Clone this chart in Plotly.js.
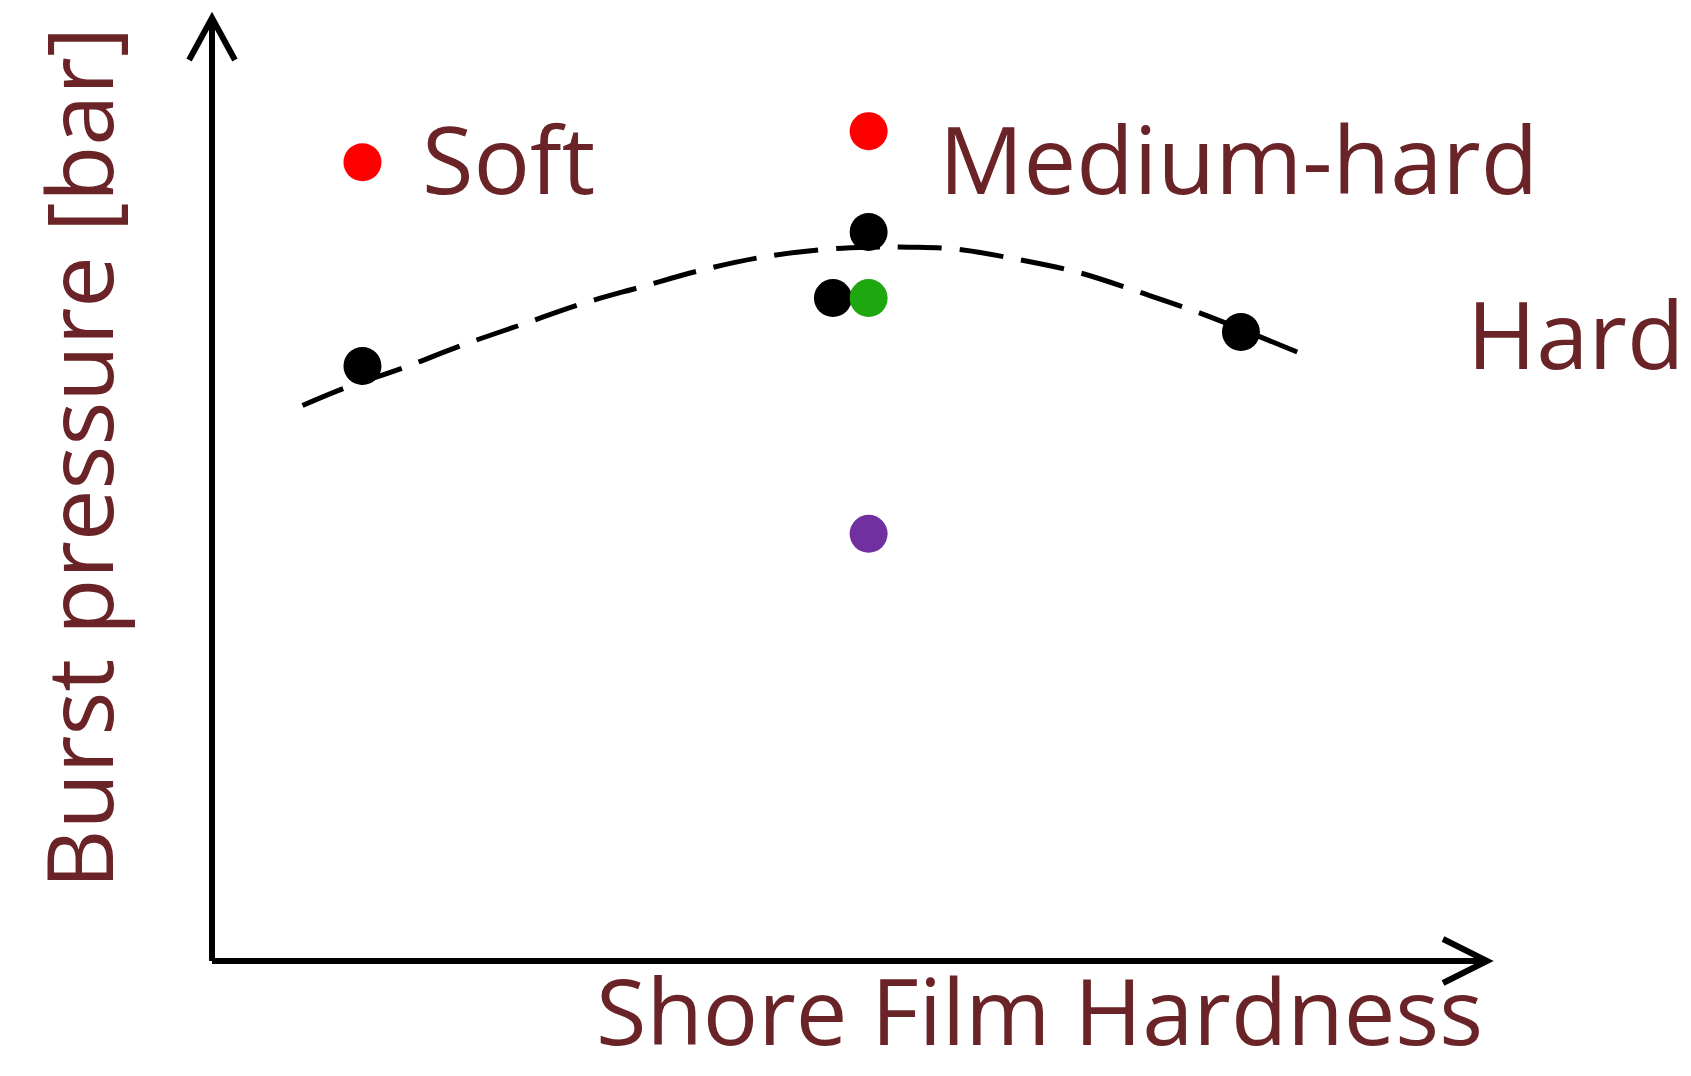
<!DOCTYPE html>
<html>
<head>
<meta charset="utf-8">
<script src="https://cdn.plot.ly/plotly-3.0.1.min.js"></script>
<style>
  html, body { margin: 0; padding: 0; background: #ffffff; }
  #chart { width: 1691px; height: 1076px; }
</style>
</head>
<body>
<div id="chart"></div>
<script>
// ---- Data (arbitrary units; axes have no ticks) ----
const fitX = [0.71, 1.03, 1.50, 1.96, 2.43, 2.90, 3.37, 3.85, 4.34, 4.83, 5.16, 5.47, 5.83, 6.32, 6.80, 7.28, 7.75, 8.58];
const fitY = [5.89, 6.07, 6.29, 6.53, 6.75, 6.97, 7.15, 7.33, 7.47, 7.55, 7.57, 7.57, 7.55, 7.44, 7.30, 7.09, 6.87, 6.42];

const blackX = [1.18, 5.15, 4.87, 8.07];
const blackY = [6.31, 7.73, 7.03, 6.67];

const redX = [1.18, 5.15];
const redY = [8.47, 8.80];

const greenX = [5.15];
const greenY = [7.03];

const purpleX = [5.15];
const purpleY = [4.53];

const hardnessLabels = ["Soft", "Medium-hard", "Hard"];
const labelX = [1.63, 5.69, 9.83];
const labelY = [8.52, 8.52, 6.66];

const xTitle = "Shore Film Hardness";
const yTitle = "Burst pressure [bar]";

// ---- Styles ----
const textColor = "#6a2427";
const fontFamily = "'Open Sans', 'Noto Sans', sans-serif";
const markerSize = 38;

const traces = [
  {
    x: fitX, y: fitY, type: "scatter", mode: "lines",
    line: { color: "#000000", width: 5, dash: "44px,18px", shape: "spline", smoothing: 1 },
    hoverinfo: "skip", showlegend: false
  },
  {
    x: blackX, y: blackY, type: "scatter", mode: "markers",
    marker: { color: "#000000", size: markerSize }, showlegend: false
  },
  {
    x: redX, y: redY, type: "scatter", mode: "markers",
    marker: { color: "#ff0000", size: markerSize }, showlegend: false
  },
  {
    x: greenX, y: greenY, type: "scatter", mode: "markers",
    marker: { color: "#1fa70f", size: markerSize }, showlegend: false
  },
  {
    x: purpleX, y: purpleY, type: "scatter", mode: "markers",
    marker: { color: "#7030a0", size: markerSize }, showlegend: false
  }
];

const annotations = hardnessLabels.map((t, i) => ({
  text: t, x: labelX[i], y: labelY[i], xref: "x", yref: "y",
  xanchor: "left", yanchor: "middle", showarrow: false,
  font: { family: fontFamily, size: 94, color: textColor }
}));

annotations.push({
  text: xTitle, xref: "paper", yref: "paper", x: 0.6494, y: -0.1198,
  xanchor: "center", yanchor: "bottom", showarrow: false,
  font: { family: fontFamily, size: 92, color: textColor }
});
annotations.push({
  text: yTitle, xref: "paper", yref: "paper", x: -0.1059, y: 0.5334,
  xanchor: "center", yanchor: "middle", showarrow: false, textangle: -90,
  font: { family: fontFamily, size: 92, color: textColor }
});

const axLine = { color: "#000000", width: 6 };
const shapes = [
  { type: "line", xref: "paper", yref: "paper", x0: 0, y0: 0, x1: 1, y1: 0, line: axLine },
  { type: "line", xref: "paper", yref: "paper", x0: 0, y0: 0, x1: 0, y1: 1, line: axLine },
  { type: "path", xref: "paper", yref: "paper",
    path: "M 0.9655,0.0233 L 1,0 L 0.9655,-0.0233", line: axLine },
  { type: "path", xref: "paper", yref: "paper",
    path: "M -0.018,0.9554 L 0,1 L 0.018,0.9554", line: axLine }
];

const layout = {
  width: 1691, height: 1076,
  margin: { l: 212, r: 204, t: 18, b: 115, pad: 0 },
  paper_bgcolor: "#ffffff", plot_bgcolor: "#ffffff",
  showlegend: false,
  xaxis: { range: [0, 10], showgrid: false, zeroline: false, showline: false, showticklabels: false, ticks: "", fixedrange: true },
  yaxis: { range: [0, 10], showgrid: false, zeroline: false, showline: false, showticklabels: false, ticks: "", fixedrange: true },
  annotations: annotations,
  shapes: shapes
};

Plotly.newPlot("chart", traces, layout, { displayModeBar: false, staticPlot: true });
</script>
</body>
</html>
